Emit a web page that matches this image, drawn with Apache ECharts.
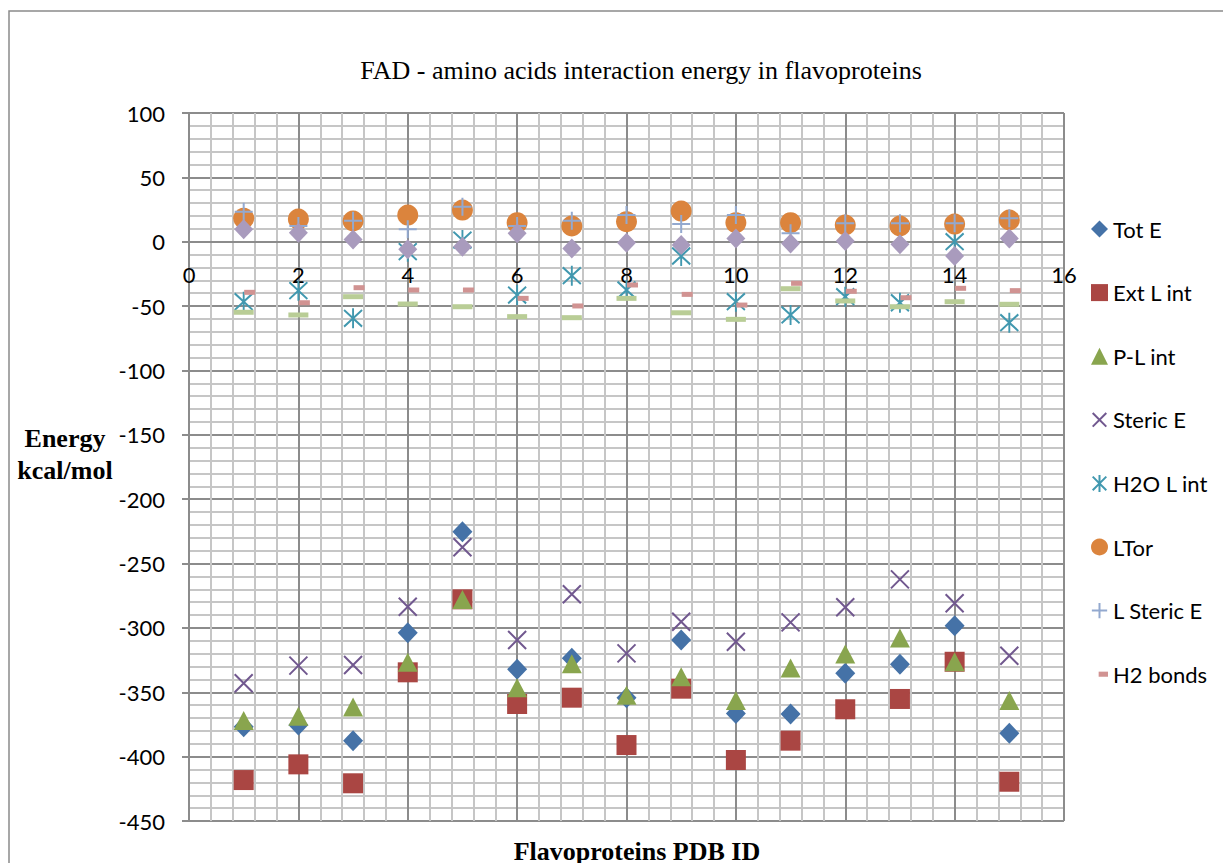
<!DOCTYPE html>
<html>
<head>
<meta charset="utf-8">
<script src="https://cdn.jsdelivr.net/npm/echarts@6/dist/echarts.min.js"></script>
<style>
  html, body { margin: 0; padding: 0; background: #fff; }
  #chart { width: 1223px; height: 863px; }
</style>
</head>
<body>
<div id="chart"></div>
<script>
// Structure index (1..15) for each flavoprotein
const pdbIndex = [1, 2, 3, 4, 5, 6, 7, 8, 9, 10, 11, 12, 13, 14, 15];

// Energy terms, kcal/mol
const totE     = [-376.7, -375.5, -387.6, -303.7, -225.3, -332.2, -323.6, -354.2, -309.4, -366.4, -366.9, -335.3, -328.3, -298.3, -381.9];
const extLInt  = [-418.2, -406.0, -420.7, -334.5, -277.8, -359.1, -354.2, -391.0, -347.2, -402.6, -387.6, -363.2, -355.2, -326.3, -419.5];
const plInt    = [-372.0, -368.7, -361.5, -326.7, -278.0, -346.4, -327.8, -352.4, -337.9, -356.3, -331.2, -320.3, -307.9, -326.3, -356.3];
const stericE  = [-343.0, -329.3, -328.8, -283.5, -237.4, -309.4, -273.9, -319.8, -295.2, -310.7, -295.7, -284.0, -262.3, -280.9, -321.6];
const h2oLInt  = [-46.6, -38.0, -59.5, -7.7, 1.3, -41.4, -26.4, -37.5, -11.1, -46.6, -56.9, -42.7, -47.4, 0.0, -62.9];
const lTor     = [18.2, 17.6, 16.1, 20.7, 24.6, 14.8, 12.2, 15.6, 23.8, 14.8, 14.8, 13.0, 12.2, 13.7, 16.9];
const lStericE = [23.3, 12.2, 16.3, 9.6, 27.2, 12.2, 16.3, 20.7, 13.7, 20.7, 6.5, 14.3, 14.3, 14.3, 18.2];
const h2Bonds  = [-39.3, -47.4, -35.7, -37.5, -37.5, -44.0, -49.9, -33.6, -40.9, -49.2, -32.3, -38.5, -43.5, -36.2, -38.0];
const series9  = [-54.8, -56.9, -42.7, -48.4, -50.5, -58.2, -59.0, -44.0, -55.2, -60.3, -36.5, -46.0, -50.5, -46.6, -48.6];
const series10 = [9.6, 7.0, 1.8, -5.9, -3.9, 6.5, -5.2, -0.7, -2.6, 2.6, -1.3, 0.5, -2.0, -11.1, 2.6];

// Axis ticks
const xTicks = { min: 0, max: 16, step: 2 };
const yTicks = { min: -450, max: 100, step: 50 };

const legendNames = ['Tot E', 'Ext L int', 'P-L int', 'Steric E', 'H2O L int', 'LTor', 'L Steric E', 'H2 bonds'];

const pts = vals => pdbIndex.map((x, i) => [x, vals[i]]);

const SYM_X    = 'path://M0,0L20,20M20,0L0,20';
const SYM_STAR = 'path://M0,0L20,20M20,0L0,20M10,-2L10,22';
const SYM_PLUS = 'path://M10,0L10,20M0,10L20,10';

function filled(name, vals, color, symbol, size, extra) {
  return Object.assign({
    name, type: 'scatter', data: pts(vals), symbol, symbolSize: size,
    itemStyle: { color, opacity: 1 },
    emphasis: { disabled: true }, animation: false
  }, extra || {});
}
function stroked(name, vals, color, symbol, size, width) {
  return {
    name, type: 'scatter', data: pts(vals), symbol, symbolSize: size,
    itemStyle: { color: 'transparent', borderColor: color, borderWidth: width, opacity: 1 },
    emphasis: { disabled: true }, animation: false
  };
}

const C = {
  tot: '#4572A7', ext: '#AA4643', pl: '#89A54E', ster: '#71588F', h2o: '#4198AF',
  ltor: '#DB843D', lster: '#93A9CF', h2b: '#D19392', s9: '#B9CD96', s10: '#A99BBD'
};

const series = [
  filled('Tot E', totE, C.tot, 'diamond', [20, 21]),
  filled('Ext L int', extLInt, C.ext, 'rect', [20, 20]),
  filled('P-L int', plInt, C.pl, 'triangle', [20, 19]),
  stroked('Steric E', stericE, C.ster, SYM_X, [18, 18], 2),
  stroked('H2O L int', h2oLInt, C.h2o, SYM_STAR, [18, 20], 2),
  filled('LTor', lTor, C.ltor, 'circle', 21),
  stroked('L Steric E', lStericE, C.lster, SYM_PLUS, [18, 18], 2),
  filled('H2 bonds', h2Bonds, C.h2b, 'rect', [11, 5], { symbolOffset: [6, 0] }),
  filled('series9', series9, C.s9, 'rect', [20, 5]),
  filled('series10', series10, C.s10, 'diamond', [19, 20])
];

const legendIcons = {
  'Tot E':      { icon: 'diamond', itemStyle: { color: C.tot, borderWidth: 0 } },
  'Ext L int':  { icon: 'rect', itemStyle: { color: C.ext, borderWidth: 0 } },
  'P-L int':    { icon: 'triangle', itemStyle: { color: C.pl, borderWidth: 0 } },
  'Steric E':   { icon: 'path://M0,0M20,20M2,2L18,18M18,2L2,18', itemStyle: { color: 'transparent', borderColor: C.ster, borderWidth: 2 } },
  'H2O L int':  { icon: 'path://M0,0M20,20M2,2L18,18M18,2L2,18M10,0L10,20', itemStyle: { color: 'transparent', borderColor: C.h2o, borderWidth: 2 } },
  'LTor':       { icon: 'circle', itemStyle: { color: C.ltor, borderWidth: 0 } },
  'L Steric E': { icon: 'path://M0,0M20,20M10,1L10,19M1,10L19,10', itemStyle: { color: 'transparent', borderColor: C.lster, borderWidth: 2 } },
  'H2 bonds':   { icon: 'path://M0,0M20,20M9,7L20,7L20,13L9,13Z', itemStyle: { color: C.h2b, borderWidth: 0 } }
};

const MAJOR = '#8C8C8C';
const MINOR = '#C6C6C6';
const LABEL_FONT = 'Lato, "Open Sans", sans-serif';
const SERIF = '"Liberation Serif", "DejaVu Serif", serif';

// Plot box in pixels; the x axis (with its labels) sits on the y = 0 line
const PLOT = { left: 189, right: 159, top: 113, bottom: 42, height: 863 - 113 - 42 };
const zeroOffset = -PLOT.height * (0 - yTicks.min) / (yTicks.max - yTicks.min);

const chart = echarts.init(document.getElementById('chart'), null, { renderer: 'svg' });
chart.setOption({
  backgroundColor: '#ffffff',
  animation: false,
  grid: { left: PLOT.left, right: PLOT.right, top: PLOT.top, bottom: PLOT.bottom, containLabel: false },
  xAxis: {
    type: 'value', min: xTicks.min, max: xTicks.max, interval: xTicks.step,
    position: 'bottom', offset: zeroOffset,
    axisLine: { show: true, onZero: false, lineStyle: { color: MAJOR, width: 2 } },
    axisTick: { show: false },
    axisLabel: { color: '#000', fontFamily: LABEL_FONT, fontSize: 22, margin: 22 },
    splitLine: { show: true, lineStyle: { color: MAJOR, width: 2 } },
    minorTick: { show: false, splitNumber: 5 },
    minorSplitLine: { show: true, lineStyle: { color: MINOR, width: 2 } }
  },
  yAxis: {
    type: 'value', min: yTicks.min, max: yTicks.max, interval: yTicks.step,
    axisLine: { show: true, onZero: false, lineStyle: { color: MAJOR, width: 2 } },
    axisTick: { show: true, inside: false, length: 7, lineStyle: { color: MAJOR, width: 2 } },
    axisLabel: { color: '#000', fontFamily: LABEL_FONT, fontSize: 22, margin: 24 },
    splitLine: { show: true, lineStyle: { color: MAJOR, width: 2 } },
    minorTick: { show: false, splitNumber: 5 },
    minorSplitLine: { show: true, lineStyle: { color: MINOR, width: 2 } }
  },
  legend: {
    orient: 'vertical', left: 1090, top: 218, padding: 0,
    itemWidth: 17, itemHeight: 17, itemGap: 41.6,
    selectedMode: false,
    textStyle: { color: '#000', fontFamily: LABEL_FONT, fontSize: 22, lineHeight: 22 },
    data: legendNames.map(n => Object.assign({ name: n }, legendIcons[n]))
  },
  graphic: [
    { type: 'rect', silent: true, z: -10,
      shape: { x: 9, y: 11, width: 1230, height: 870 },
      style: { fill: 'none', stroke: '#8A8A8A', lineWidth: 1.5 } },
    { type: 'text', silent: true, x: 641, y: 70,
      style: { text: 'FAD - amino acids interaction energy in flavoproteins', fill: '#000',
               font: '26px ' + SERIF, align: 'center', verticalAlign: 'middle' } },
    { type: 'text', silent: true, x: 65, y: 438,
      style: { text: 'Energy', fill: '#000', font: 'bold 26px ' + SERIF, align: 'center', verticalAlign: 'middle' } },
    { type: 'text', silent: true, x: 65, y: 470,
      style: { text: 'kcal/mol', fill: '#000', font: 'bold 26px ' + SERIF, align: 'center', verticalAlign: 'middle' } },
    { type: 'text', silent: true, x: 637, y: 851,
      style: { text: 'Flavoproteins PDB ID', fill: '#000', font: 'bold 26px ' + SERIF, align: 'center', verticalAlign: 'middle' } }
  ],
  series
});
</script>
</body>
</html>
